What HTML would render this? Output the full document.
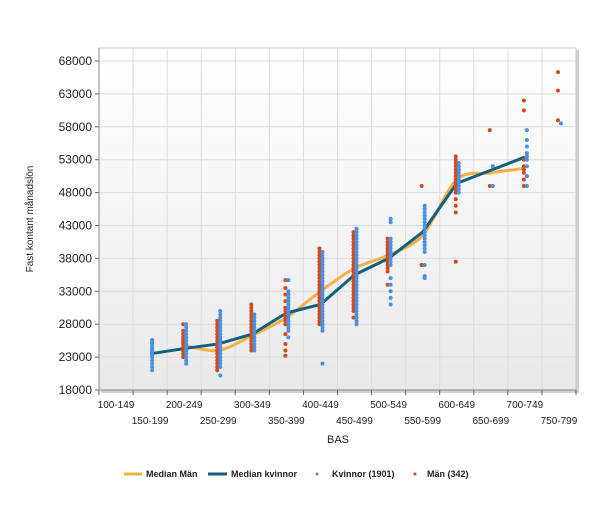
<!DOCTYPE html>
<html><head><meta charset="utf-8"><style>
body{margin:0;background:#fff;}
svg{font-family:"Liberation Sans",sans-serif;}
</style></head><body>
<svg id="c" width="600" height="500">
<defs>
<linearGradient id="bg" x1="0" y1="0" x2="0" y2="1"><stop offset="0" stop-color="#ffffff"/><stop offset="1" stop-color="#e9e9e9"/></linearGradient>
</defs>
<rect x="101" y="50" width="478" height="343" fill="#d0d0d0"/>
<rect x="99" y="48" width="477" height="342" fill="url(#bg)" stroke="#c8c8d0"/>
<g id="grid"></g><g id="axes"></g><g id="lines"></g><g id="dots"></g>
<text transform="translate(33,219) rotate(-90)" text-anchor="middle" font-size="10" fill="#222">Fast kontant månadslön</text>
<text x="338" y="443" text-anchor="middle" font-size="11" fill="#222">BAS</text>
<g font-size="9" font-weight="bold" fill="#222">
<g><line x1="124" y1="474" x2="142" y2="474" stroke="#f5b145" stroke-width="3"/><text x="146" y="477">Median Män</text></g>
<g><line x1="208" y1="474" x2="227" y2="474" stroke="#135f7f" stroke-width="3"/><text x="231" y="477">Median kvinnor</text></g>
<g><circle cx="317" cy="474" r="1.5" fill="#4a8fe0"/><text x="332" y="477">Kvinnor (1901)</text></g>
<g><circle cx="415" cy="474" r="1.5" fill="#d04a1c"/><text x="427" y="477">Män (342)</text></g>
</g>
</svg>
<script>
const categories=["100-149","150-199","200-249","250-299","300-349","350-399","400-449","450-499","500-549","550-599","600-649","650-699","700-749","750-799"];
const yTicks=[18000,23000,28000,33000,38000,43000,48000,53000,58000,63000,68000];
const medianKvinnor=[null,23500,24300,25000,26500,29700,31000,35500,38000,42000,49400,51400,53400,null];
const medianMan=[null,null,24800,24000,26300,29000,33000,36500,38500,41500,50000,51000,51700,null];
const kvinnor=[[],
[21,21.5,22,22.5,23,23.2,23.5,23.8,24,24.3,24.6,25,25.3,25.6],
[22,22.5,23,23.5,24,24.5,25,25.5,26,26.5,27,27.5,28],
[20.2,21.5,22,22.5,23,23.5,24,24.5,25,25.5,26,26.5,27,27.5,28,28.5,29,29.5,30],
[24,24.5,25,25.5,26,26.5,27,27.5,28,28.5,29,29.5],
[26,27,27.5,28,28.5,29,29.5,30,30.5,31,31.5,32,32.5,33,34.7],
[22,27,27.5,28,28.5,29,29.5,30,30.5,31,31.5,32,32.5,33,33.5,34,34.5,35,35.5,36,36.5,37,37.5,38,38.5,39],
[28,28.5,29,29.5,30,30.5,31,31.5,32,32.5,33,33.5,34,34.5,35,35.5,36,36.5,37,37.5,38,38.5,39,39.5,40,40.5,41,41.5,42,42.5],
[31,32,33,34,35,37,37.5,38,38.5,39,39.5,40,40.5,41,43.5,44],
[35,35.3,37,39,39.5,40,40.5,41,41.5,42,42.5,43,43.5,44,44.5,45,45.5,46],
[48,48.5,49,49.5,50,50.5,51,51.5,52,52.5],
[49,52],
[49,50.5,52,53,53.5,54,55,56,57.5],
[58.5]];
const man=[[],[],
[23,23.5,24,24.5,25,25.3,25.6,26,26.5,27,28],
[21,21.5,22,22.5,23,23.5,24,24.5,25,25.5,26,26.5,27,27.5,28,28.5],
[24,24.5,25,25.5,26,26.5,27,27.5,28,28.5,29,29.5,30,30.5,31],
[23.2,24,25,26.5,28,28.5,29,29.5,30,30.5,31.5,32.5,33.5,34.7],
[28,28.5,29,29.5,30,30.5,31,31.5,32,32.5,33,33.5,34,34.5,35,35.5,36,36.5,37,37.5,38,38.5,39,39.5],
[29,30,30.5,31,31.5,32,32.5,33,33.5,34,34.5,35,35.5,36,36.5,37,37.5,38,38.5,39,39.5,40,40.5,41,41.5,42],
[34,36,36.5,37,37.5,38,38.5,39,39.5,40,40.5,41],
[49,37,37],
[37.5,45,46,47,48,48.5,49,49.5,50,50.5,51,51.5,52,52.5,53,53.5],
[57.5,49],
[49,50,51,51.5,52,53,60.5,62],
[59,63.5,66.3]];
const NS="http://www.w3.org/2000/svg";
const L=99,R=576,T=48,B=390,ymin=18000,ymax=68000;
const step=(R-L)/categories.length;
function yS(v){return B-(v-ymin)/(ymax-ymin)*(390-61);}
function xT(i){return L+i*step;}
function xC(i){return L+i*step+step/2;}
function mk(tag,attrs,parent){const e=document.createElementNS(NS,tag);for(const k in attrs)e.setAttribute(k,attrs[k]);parent.appendChild(e);return e;}
const grid=document.getElementById('grid'),axes=document.getElementById('axes'),lines=document.getElementById('lines'),dots=document.getElementById('dots');
yTicks.forEach(v=>{
 const y=yS(v);
 const g=mk('line',{x1:L,x2:R,y1:y,y2:y,stroke:'#dcdce2'},grid);
 
 
 const t=mk('line',{x1:L-4,x2:L,y1:y,y2:y,stroke:'#666'},axes);
 
 
 const tx=mk('text',{x:L-7,y:y+4,'text-anchor':'end','font-size':'12',fill:'#222'},axes);
 tx.textContent=v;
 
 
});
for(let i=0;i<=categories.length;i++){
 const x=xT(i);
 if(i>0&&i<categories.length){const g=mk('line',{x1:x,x2:x,y1:T,y2:B,stroke:'#dcdce2'},grid);
 
 }
 const t=mk('line',{x1:x,x2:x,y1:B,y2:B+5,stroke:'#666'},axes);
 
 
}
categories.forEach((c,i)=>{
 const tx=mk('text',{x:xC(i),y:(i%2?B+34:B+18),'text-anchor':'middle','font-size':'10',fill:'#222'},axes);
 tx.textContent=c;
 
 
});
const ax=mk('line',{x1:L,x2:L,y1:T,y2:B,stroke:'#888'},axes);


const bx=mk('line',{x1:L,x2:R,y1:B,y2:B,stroke:'#888'},axes);


function pts(arr){const p=[];arr.forEach((v,i)=>{if(v!=null)p.push([xC(i),yS(v)]);});return p;}
function smooth(p){let d='M'+p[0][0]+','+p[0][1];for(let i=0;i<p.length-1;i++){const p0=p[Math.max(i-1,0)],p1=p[i],p2=p[i+1],p3=p[Math.min(i+2,p.length-1)],k=0.15;d+=' C'+(p1[0]+(p2[0]-p0[0])*k)+','+(p1[1]+(p2[1]-p0[1])*k)+' '+(p2[0]-(p3[0]-p1[0])*k)+','+(p2[1]-(p3[1]-p1[1])*k)+' '+p2[0]+','+p2[1];}return d;}
const pm=mk('path',{d:smooth(pts(medianMan)),fill:'none',stroke:'#f5b145','stroke-width':3},lines);


const pk=mk('polyline',{points:pts(medianKvinnor).map(p=>p.join(',')).join(' '),fill:'none',stroke:'#135f7f','stroke-width':3,'stroke-linejoin':'round'},lines);


man.forEach((arr,i)=>arr.forEach(v=>{
 const c=mk('circle',{cx:xC(i)-1,cy:yS(v*1000),r:2,fill:'#d04a1c'},dots);
 
 
}));
kvinnor.forEach((arr,i)=>arr.forEach(v=>{
 const c=mk('circle',{cx:xC(i)+2,cy:yS(v*1000),r:2,fill:'#4a8fe0'},dots);
 
 
}));
</script>
</body></html>
